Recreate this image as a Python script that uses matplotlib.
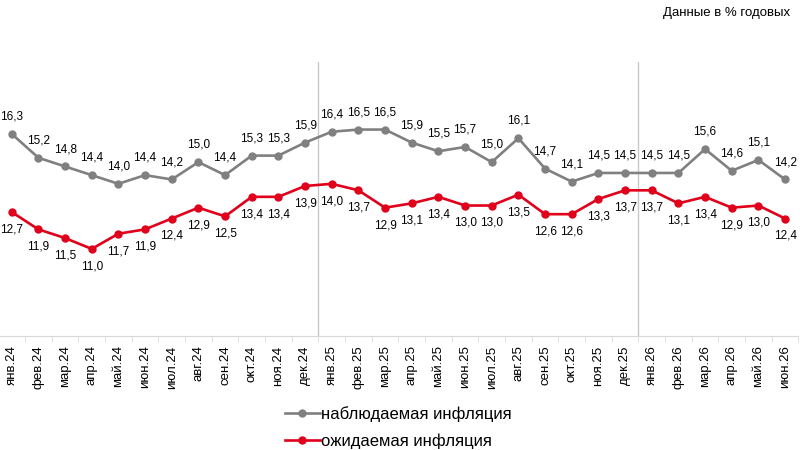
import matplotlib
matplotlib.use("Agg")
import matplotlib.pyplot as plt
import numpy as np

plt.rcParams["font.family"] = ["Liberation Sans", "DejaVu Sans"]

months = ["янв.24", "фев.24", "мар.24", "апр.24", "май.24", "июн.24",
          "июл.24", "авг.24", "сен.24", "окт.24", "ноя.24", "дек.24",
          "янв.25", "фев.25", "мар.25", "апр.25", "май.25", "июн.25",
          "июл.25", "авг.25", "сен.25", "окт.25", "ноя.25", "дек.25",
          "янв.26", "фев.26", "мар.26", "апр.26", "май.26", "июн.26"]
observed = [16.3, 15.2, 14.8, 14.4, 14.0, 14.4, 14.2, 15.0, 14.4, 15.3, 15.3, 15.9,
            16.4, 16.5, 16.5, 15.9, 15.5, 15.7, 15.0, 16.1, 14.7, 14.1, 14.5, 14.5,
            14.5, 14.5, 15.6, 14.6, 15.1, 14.2]
expected = [12.7, 11.9, 11.5, 11.0, 11.7, 11.9, 12.4, 12.9, 12.5, 13.4, 13.4, 13.9,
            14.0, 13.7, 12.9, 13.1, 13.4, 13.0, 13.0, 13.5, 12.6, 12.6, 13.3, 13.7,
            13.7, 13.1, 13.4, 12.9, 13.0, 12.4]
year_breaks = [11.5, 23.5]

GREY = "#808080"
RED = "#e0001b"

fig = plt.figure(figsize=(8, 4.5), dpi=100)
ax = fig.add_axes([-0.002, 0.254, 1.0, 0.609])

x = np.arange(len(months))
ax.plot(x, observed, color=GREY, lw=1.9, marker="o", ms=5, label="наблюдаемая инфляция")
ax.plot(x, expected, color=RED, lw=1.9, marker="o", ms=5, label="ожидаемая инфляция")

# value labels: above the grey line, below the red one
for xi, v in zip(x, observed):
    ax.annotate(f"{v:.1f}".replace(".", ","), (xi, v), xytext=(0, 12.5),
                textcoords="offset points", ha="center", va="center", fontsize=8.5)
for xi, v in zip(x, expected):
    ax.annotate(f"{v:.1f}".replace(".", ","), (xi, v), xytext=(0, -12.5),
                textcoords="offset points", ha="center", va="center", fontsize=8.5)

for b in year_breaks:
    ax.axvline(b, color="#c8c8c8", lw=1, zorder=0)

ax.set_xlim(-0.5, len(months) - 0.5)
ax.set_ylim(7, 19.63)
ax.set_yticks([])
for s in ["top", "right", "left"]:
    ax.spines[s].set_visible(False)
ax.spines["bottom"].set_color("#d9d9d9")

ax.set_xticks(x)
ax.set_xticklabels(months, rotation=90, fontsize=9.5)
ax.tick_params(axis="x", which="major", length=0, pad=7)
ax.set_xticks(np.arange(-0.5, len(months)), minor=True)
ax.tick_params(axis="x", which="minor", length=4.3, color="#d9d9d9")

fig.text(0.9875, 0.971, "Данные в % годовых", ha="right", va="center", fontsize=9.5)

ax.legend(loc="upper left", bbox_to_anchor=(0.356, 0.098), bbox_transform=fig.transFigure,
          frameon=False, fontsize=12, handlelength=2.1, handletextpad=0.1,
          labelspacing=0.7, borderpad=0, borderaxespad=0)

fig.savefig("out.png", dpi=100)
